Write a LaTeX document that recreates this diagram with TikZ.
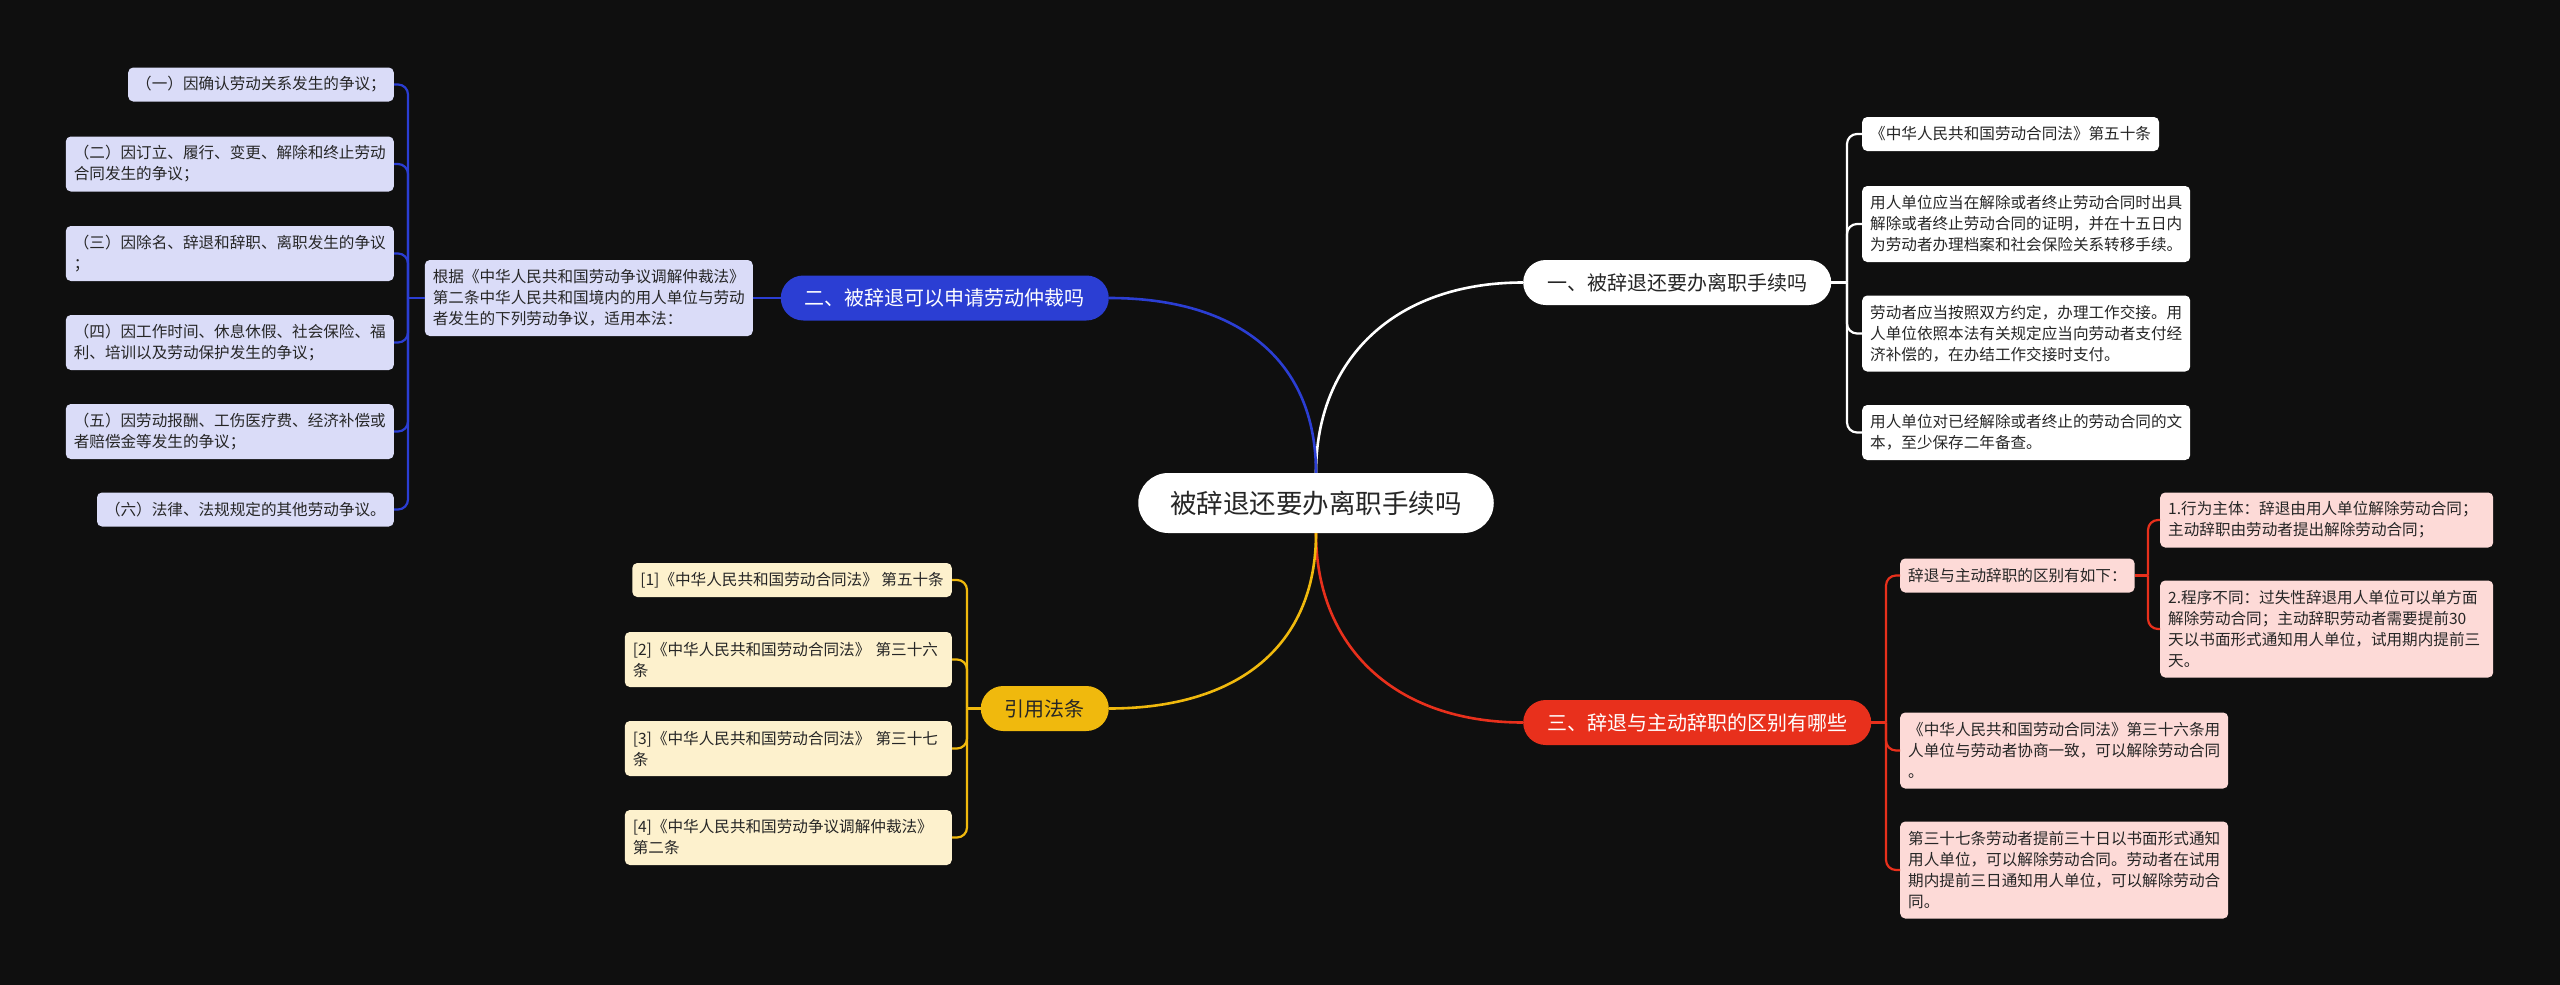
\documentclass[tikz,border=0pt]{standalone}
\usepackage{fontspec}
\setmainfont{Noto Sans CJK SC}
\definecolor{bg}{HTML}{0F0F0F}
\definecolor{txt}{HTML}{262626}
\definecolor{blueM}{HTML}{2B3ED3}
\definecolor{blueL}{HTML}{DADCF8}
\definecolor{redM}{HTML}{E8301C}
\definecolor{redL}{HTML}{FDDAD7}
\definecolor{yelM}{HTML}{F0B90D}
\definecolor{yelL}{HTML}{FDF1CD}
\tikzset{
  item/.style={rounded corners=5pt, inner xsep=8pt, inner ysep=0pt, align=left,
    font=\fontsize{15.6}{21}\selectfont, text=txt},
  hA/.style={minimum height=34pt},
  hB/.style={minimum height=55pt},
  hC/.style={minimum height=76pt},
  hD/.style={minimum height=97pt},
  topic/.style={rounded corners=22.5pt, minimum height=45pt, inner xsep=24pt,
    inner ysep=0pt, font=\fontsize{20}{24}\selectfont},
  mainline/.style={line width=2.6pt},
  conn/.style={line width=2.2pt, rounded corners=10pt},
}
\begin{document}
\begin{tikzpicture}[x=1pt,y=-1pt]
\fill[bg] (0,0) rectangle (2560,985);
\useasboundingbox (0,0) rectangle (2560,985);

% root and topics
\node[topic, fill=white, text=txt, minimum height=60pt, rounded corners=30pt,
  inner xsep=32pt, font=\fontsize{26.5}{30}\selectfont] (root) at (1316,503) {被辞退还要办离职手续吗};
\node[topic, fill=white, text=txt, anchor=west] (t1) at (1523,282.5) {一、被辞退还要办离职手续吗};
\node[topic, fill=blueM, text=white, anchor=east] (t2) at (1109,298) {二、被辞退可以申请劳动仲裁吗};
\node[topic, fill=redM, text=white, anchor=west] (t3) at (1523,722.5) {三、辞退与主动辞职的区别有哪些};
\node[topic, fill=yelM, text=txt, anchor=east] (t4) at (1109,708.5) {引用法条};

% blue branch
\node[item, fill=blueL, hC, anchor=east] (b0) at (753,298) {根据《中华人民共和国劳动争议调解仲裁法》\\第二条中华人民共和国境内的用人单位与劳动\\者发生的下列劳动争议，适用本法：};
\node[item, fill=blueL, hA, anchor=east] (b1) at (394,84.5) {（一）因确认劳动关系发生的争议；};
\node[item, fill=blueL, hB, anchor=east] (b2) at (394,164) {（二）因订立、履行、变更、解除和终止劳动\\合同发生的争议；};
\node[item, fill=blueL, hB, anchor=east] (b3) at (394,253.5) {（三）因除名、辞退和辞职、离职发生的争议\\；};
\node[item, fill=blueL, hB, anchor=east] (b4) at (394,342.5) {（四）因工作时间、休息休假、社会保险、福\\利、培训以及劳动保护发生的争议；};
\node[item, fill=blueL, hB, anchor=east] (b5) at (394,431.5) {（五）因劳动报酬、工伤医疗费、经济补偿或\\者赔偿金等发生的争议；};
\node[item, fill=blueL, hA, anchor=east] (b6) at (394,509.5) {（六）法律、法规规定的其他劳动争议。};

% white branch
\node[item, fill=white, hA, anchor=west] (w1) at (1862,134) {《中华人民共和国劳动合同法》第五十条};
\node[item, fill=white, hC, anchor=west] (w2) at (1862,224) {用人单位应当在解除或者终止劳动合同时出具\\解除或者终止劳动合同的证明，并在十五日内\\为劳动者办理档案和社会保险关系转移手续。};
\node[item, fill=white, hC, anchor=west] (w3) at (1862,333.5) {劳动者应当按照双方约定，办理工作交接。用\\人单位依照本法有关规定应当向劳动者支付经\\济补偿的，在办结工作交接时支付。};
\node[item, fill=white, hB, anchor=west] (w4) at (1862,432.5) {用人单位对已经解除或者终止的劳动合同的文\\本，至少保存二年备查。};

% red branch
\node[item, fill=redL, hA, anchor=west] (r0) at (1900,575.5) {辞退与主动辞职的区别有如下：};
\node[item, fill=redL, hB, anchor=west, text width=317pt] (r1) at (2160,520) {1.行为主体：辞退由用人单位解除劳动合同；\\主动辞职由劳动者提出解除劳动合同；};
\node[item, fill=redL, hD, anchor=west, text width=317pt] (r2) at (2160,629) {2.程序不同：过失性辞退用人单位可以单方面\\解除劳动合同；主动辞职劳动者需要提前30\\天以书面形式通知用人单位，试用期内提前三\\天。};
\node[item, fill=redL, hC, anchor=west] (r3) at (1900,750.5) {《中华人民共和国劳动合同法》第三十六条用\\人单位与劳动者协商一致，可以解除劳动合同\\。};
\node[item, fill=redL, hD, anchor=west] (r4) at (1900,870) {第三十七条劳动者提前三十日以书面形式通知\\用人单位，可以解除劳动合同。劳动者在试用\\期内提前三日通知用人单位，可以解除劳动合\\同。};

% yellow branch
\node[item, fill=yelL, hA, anchor=east] (y1) at (952,580) {[1]《中华人民共和国劳动合同法》 第五十条};
\node[item, fill=yelL, hB, anchor=east, text width=311pt] (y2) at (952,659.5) {[2]《中华人民共和国劳动合同法》 第三十六\\条};
\node[item, fill=yelL, hB, anchor=east, text width=311pt] (y3) at (952,748.5) {[3]《中华人民共和国劳动合同法》 第三十七\\条};
\node[item, fill=yelL, hB, anchor=east, text width=311pt] (y4) at (952,837.5) {[4]《中华人民共和国劳动争议调解仲裁法》\\第二条};

% main connectors
\draw[mainline, draw=white] (root.north) .. controls +(0,-112) and +(-130,0) .. (t1.west);
\draw[mainline, draw=blueM] (root.north) .. controls +(0,-112) and +(130,0) .. (t2.east);
\draw[mainline, draw=redM] (root.south) .. controls +(0,112) and +(-130,0) .. (t3.west);
\draw[mainline, draw=yelM] (root.south) .. controls +(0,112) and +(130,0) .. (t4.east);

% sub connectors
\coordinate (vb) at (408,0);
\coordinate (vw) at (1847,0);
\coordinate (vr) at (1886,0);
\coordinate (vr2) at (2148,0);
\coordinate (vy) at (967,0);
\draw[conn, draw=blueM] (t2.west) -- (b0.east);
\draw[conn, draw=blueM] (b0.west) -- (b0.west -| vb);
\foreach \c in {b1,b2,b3,b4,b5,b6}
  \draw[conn, draw=blueM] (b0.west -| vb) |- (\c.east);
\draw[conn, draw=white] (t1.east) -- (t1.east -| vw);
\foreach \c in {w1,w2,w3,w4}
  \draw[conn, draw=white] (t1.east -| vw) |- (\c.west);
\draw[conn, draw=redM] (t3.east) -- (t3.east -| vr);
\foreach \c in {r0,r3,r4}
  \draw[conn, draw=redM] (t3.east -| vr) |- (\c.west);
\draw[conn, draw=redM] (r0.east) -- (r0.east -| vr2);
\foreach \c in {r1,r2}
  \draw[conn, draw=redM] (r0.east -| vr2) |- (\c.west);
\draw[conn, draw=yelM] (t4.west) -- (t4.west -| vy);
\foreach \c in {y1,y2,y3,y4}
  \draw[conn, draw=yelM] (t4.west -| vy) |- (\c.east);
\end{tikzpicture}
\end{document}
